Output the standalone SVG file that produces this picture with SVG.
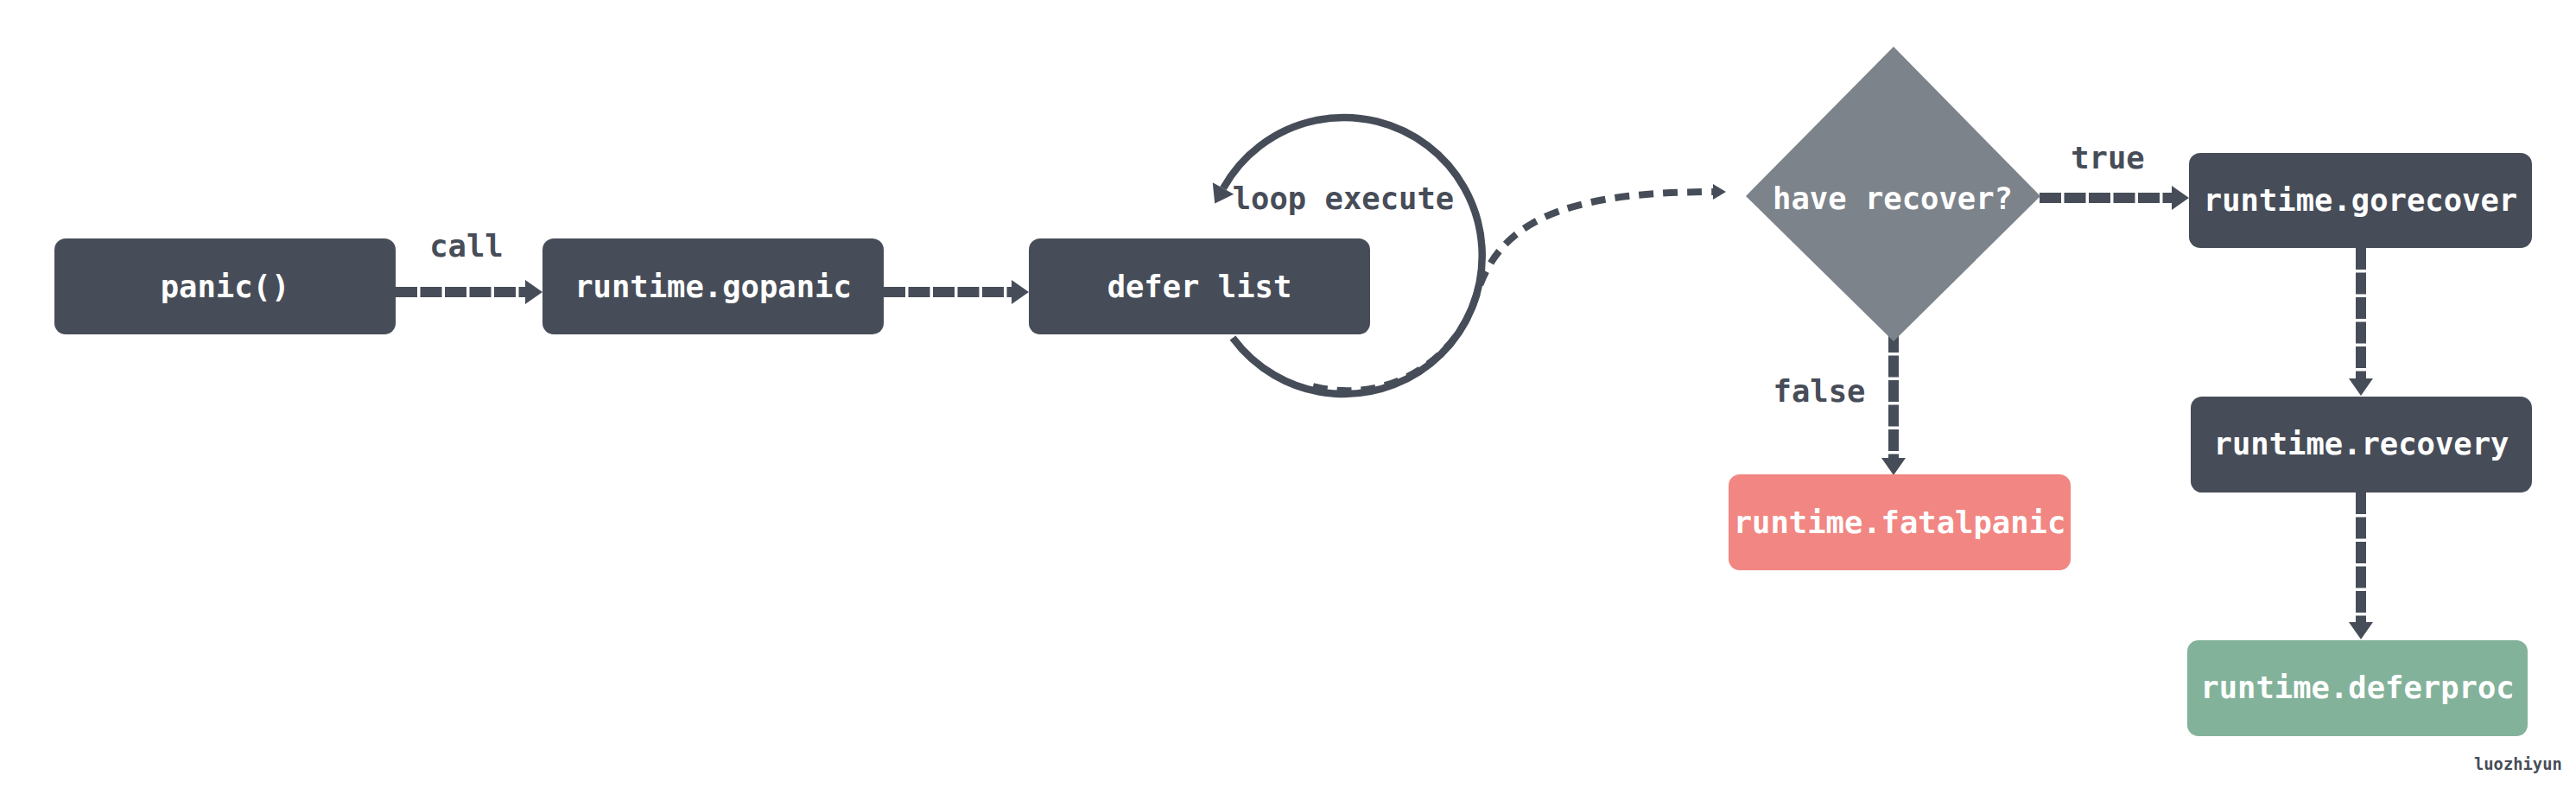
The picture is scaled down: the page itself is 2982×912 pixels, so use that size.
<svg xmlns="http://www.w3.org/2000/svg" width="2982" height="912" viewBox="0 0 2982 912">
  <style>
    .box { fill: #474d58; }
    .red { fill: #f18682; }
    .green { fill: #83b29a; }
    .dia { fill: #7d838b; }
    .nt { font-family: "DejaVu Sans Mono", "Liberation Mono", monospace; font-weight: bold; font-size: 35.5px; fill: #ffffff; text-anchor: middle; }
    .lbl { font-family: "DejaVu Sans Mono", "Liberation Mono", monospace; font-weight: bold; font-size: 35.5px; fill: #474d58; text-anchor: middle; }
    .sig { font-family: "DejaVu Sans Mono", "Liberation Mono", monospace; font-weight: bold; font-size: 18.8px; fill: #474d58; }
    .dash { fill: none; stroke: #474d58; stroke-width: 12; stroke-dasharray: 25 3.5; }
    .loop { fill: none; stroke: #474d58; stroke-width: 8.5; }
    .dot { fill: none; stroke: #474d58; stroke-width: 8; stroke-dasharray: 17 11; }
  </style>
  <defs>
    <marker id="ah" markerUnits="userSpaceOnUse" markerWidth="20" markerHeight="28" refX="0" refY="14" orient="auto" overflow="visible">
      <path d="M0,0 L20,14 L0,28 z" fill="#474d58"/>
    </marker>
    <marker id="ahl" markerUnits="userSpaceOnUse" markerWidth="20" markerHeight="28" refX="0" refY="14" orient="auto" overflow="visible">
      <path d="M0,0 L20,14 L0,28 z" fill="#474d58"/>
    </marker>
    <marker id="ahs" markerUnits="userSpaceOnUse" markerWidth="15" markerHeight="18" refX="0" refY="9" orient="auto" overflow="visible">
      <path d="M0,0 L15,9 L0,18 z" fill="#474d58"/>
    </marker>
  </defs>

  <rect width="2982" height="912" fill="#ffffff"/>

  <g id="connectors">
    <line class="dash" x1="458" y1="338" x2="608" y2="338" marker-end="url(#ah)"/>
    <line class="dash" x1="1023" y1="338" x2="1171" y2="338" marker-end="url(#ah)"/>
    <path class="loop" d="M 1427 391 A 160 160 0 1 0 1416 218" marker-end="url(#ahl)"/>
    <path class="dot" d="M 1520 447 A 156 156 0 0 0 1710 339 C 1735 262, 1800 222, 1983 222" marker-end="url(#ahs)"/>
    <line class="dash" x1="2361" y1="229" x2="2514" y2="229" marker-end="url(#ah)"/>
    <line class="dash" x1="2192" y1="383" x2="2192" y2="530" marker-end="url(#ah)"/>
    <line class="dash" x1="2733" y1="287" x2="2733" y2="438" marker-end="url(#ah)"/>
    <line class="dash" x1="2733" y1="570" x2="2733" y2="720" marker-end="url(#ah)"/>
    <text class="lbl" x="540" y="297">call</text>
    <text class="lbl" x="1555" y="242">loop execute</text>
    <text class="lbl" x="2440" y="195">true</text>
    <text class="lbl" x="2106" y="465">false</text>
  </g>

  <g id="panic">
    <rect class="box" x="63" y="276" width="395" height="111" rx="13"/>
    <text class="nt" x="260.5" y="344">panic()</text>
  </g>
  <g id="gopanic">
    <rect class="box" x="628" y="276" width="395" height="111" rx="13"/>
    <text class="nt" x="825.5" y="344">runtime.gopanic</text>
  </g>
  <g id="deferlist">
    <rect class="box" x="1191" y="276" width="395" height="111" rx="13"/>
    <text class="nt" x="1388.5" y="344">defer list</text>
  </g>
  <g id="haverecover">
    <polygon class="dia" points="2192,54 2362,227 2192,395 2021,227"/>
    <text class="nt" x="2191" y="242">have recover?</text>
  </g>
  <g id="gorecover">
    <rect class="box" x="2534" y="177" width="397" height="110" rx="13"/>
    <text class="nt" x="2732.5" y="244">runtime.gorecover</text>
  </g>
  <g id="recovery">
    <rect class="box" x="2536" y="459" width="395" height="111" rx="13"/>
    <text class="nt" x="2733.5" y="526">runtime.recovery</text>
  </g>
  <g id="fatalpanic">
    <rect class="red" x="2001" y="549" width="396" height="111" rx="13"/>
    <text class="nt" x="2199" y="617">runtime.fatalpanic</text>
  </g>
  <g id="deferproc">
    <rect class="green" x="2532" y="741" width="394" height="111" rx="13"/>
    <text class="nt" x="2729" y="808">runtime.deferproc</text>
  </g>
  <text class="sig" x="2864" y="891">luozhiyun</text>
</svg>
